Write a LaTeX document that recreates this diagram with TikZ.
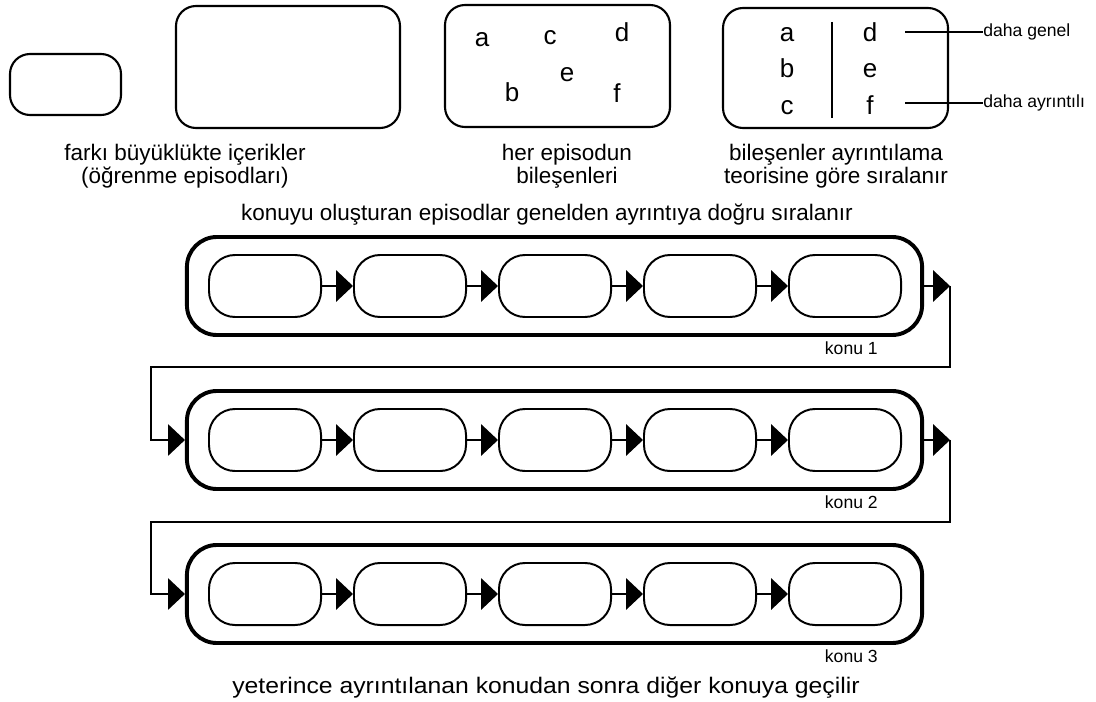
\documentclass[tikz,border=0pt]{standalone}
\usepackage{fontspec}
\setmainfont{Liberation Sans}
\usetikzlibrary{arrows.meta}

\begin{document}
\begin{tikzpicture}[x=0.025cm, y=-0.025cm,
    box/.style={draw, line width=1.5pt, rounded corners=0.5cm},
    episode/.style={draw, line width=1.4pt, rounded corners=0.65cm,
        minimum width=2.8cm, minimum height=1.55cm, inner sep=0pt},
    topic/.style={draw, line width=2.8pt, rounded corners=0.75cm,
        minimum width=18.375cm, minimum height=2.45cm, inner sep=0pt},
    flow/.style={line width=1.2pt, -{Triangle[length=0.42cm, width=0.78cm]}},
    link/.style={line width=1.2pt},
    caption/.style={align=center, font=\fontsize{16}{16.5}\selectfont},
    letter/.style={anchor=base, font=\fontsize{18.5}{20}\selectfont, inner sep=0pt},
    small/.style={font=\fontsize{12.5}{14}\selectfont, inner sep=0pt}]

    \useasboundingbox (0,0) rectangle (1096,702);

    % ust satir: ornek kutular
    \draw[box] (10,54) rectangle (121,115);
    \draw[box] (176,6) rectangle (400,128);
    \draw[box] (445,5) rectangle (670,127);
    \draw[box] (723,8) rectangle (948,128);

    \node[caption] (cap1) at (185,166) {fark\i{} büyüklükte içerikler\\(öğrenme episodlar\i)};
    \node[caption] (cap2) at (567,166) {her episodun\\bileşenleri};
    \node[caption] (cap3) at (836,166) {bileşenler ayr\i{}nt\i{}lama\\teorisine göre s\i{}ralan\i{}r};

    % karisik bilesenler
    \node[letter] (la) at (482,47) {a};
    \node[letter] (lc) at (550,45) {c};
    \node[letter] (ld) at (622,42) {d};
    \node[letter] (le) at (567,82) {e};
    \node[letter] (lb) at (512,102) {b};
    \node[letter] (lf) at (617,103) {f};

    % sirali bilesenler
    \foreach \name/\txt/\x/\y in {ra/a/787/42, rb/b/787/78, rc/c/787/115,
                                  rd/d/870/42, re/e/870/78, rf/f/870/115}
        \node[letter] (\name) at (\x,\y) {\txt};
    \draw[line width=2pt] (832,22) -- (832,118);

    \coordinate (gen) at (905,32);
    \coordinate (ayr) at (905,103);
    \node[small, anchor=west] (dgenel) at (983,32) {daha genel};
    \node[small, anchor=west] (dayrinti) at (983,103) {daha ayr\i{}nt\i{}l\i};
    \draw[link] (gen) -- (dgenel.west);
    \draw[link] (ayr) -- (dayrinti.west);

    \node[caption] (baslik) at (547,215) {konuyu oluşturan episodlar genelden ayr\i{}nt\i{}ya doğru s\i{}ralan\i{}r};

    % konular ve episodlar
    \foreach \r/\y in {1/286, 2/440, 3/594} {
        \node[topic] (konu\r) at (554.5,\y) {};
        \node[small, anchor=east] (etiket\r) at (878,\y+62) {konu \r};
        \foreach \i/\x in {1/265, 2/410, 3/555, 4/700, 5/845}
            \node[episode] (ep\r\i) at (\x,\y) {};
        \foreach \i [evaluate=\i as \j using int(\i+1)] in {1,...,4}
            \draw[flow] (ep\r\i.east) -- (ep\r\j.west);
    }

    % konudan konuya gecis
    \coordinate (out1) at (950,286);
    \coordinate (out2) at (950,440);
    \coordinate (turn1) at (151,367);
    \coordinate (turn2) at (151,522);
    \draw[flow] (konu1.east) -- (out1);
    \draw[flow] (konu2.east) -- (out2);
    \draw[flow] (out1) |- (turn1) |- (konu2.west);
    \draw[flow] (out2) |- (turn2) |- (konu3.west);

    \node[caption, xscale=1.1] (son) at (546,688) {yeterince ayr\i{}nt\i{}lanan konudan sonra diğer konuya geçilir};

\end{tikzpicture}
\end{document}
